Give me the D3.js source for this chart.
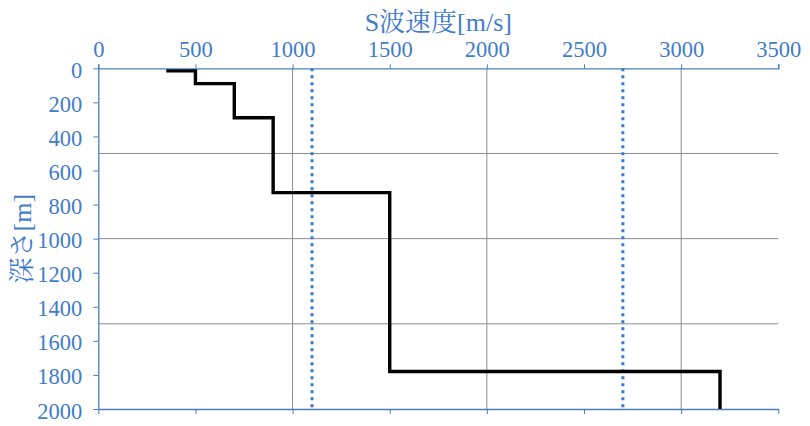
<!DOCTYPE html>
<html><head><meta charset="utf-8">
<script src="https://cdn.jsdelivr.net/npm/d3@7"></script>
<style>body{margin:0;background:#fff}</style>
</head><body>
<svg id="c" width="810" height="426"></svg>
<script>
const velocity = [350, 500, 500, 700, 700, 900, 900, 1500, 1500, 3200, 3200];
const depth    = [15, 15, 90, 90, 290, 290, 730, 730, 1780, 1780, 2000];
const refLines = [1100, 2700];
const xTicks = [0, 500, 1000, 1500, 2000, 2500, 3000, 3500];
const yTicks = [0, 200, 400, 600, 800, 1000, 1200, 1400, 1600, 1800, 2000];
const xGrid = [1000, 2000, 3000];
const yGrid = [500, 1000, 1500];

const blue = "#3f7ccc", axisBlue = "#4a7ebb", grid = "#8c8c8c";
const font = "'Liberation Serif','Noto Serif CJK JP','Noto Sans CJK JP',serif";
const svg = d3.select("#c");
const L = 98.3, R = 778.3, T = 68.3, B = 409;
const x = d3.scaleLinear().domain([0, 3500]).range([L, R]);
const y = d3.scaleLinear().domain([0, 2000]).range([T, B]);
const fmt = d3.format("d");

// grid
svg.append("g").selectAll("line").data(xGrid).join("line")
  .attr("x1", d => x(d)).attr("x2", d => x(d)).attr("y1", T).attr("y2", B)
  .attr("stroke", grid).attr("stroke-width", 1);
svg.append("g").selectAll("line").data(yGrid).join("line")
  .attr("y1", d => y(d)).attr("y2", d => y(d)).attr("x1", L).attr("x2", R)
  .attr("stroke", grid).attr("stroke-width", 1);

// axes
function styleAxis(g){
  g.select(".domain").attr("stroke", axisBlue).attr("stroke-width", 1.3);
  g.selectAll(".tick line").attr("stroke", axisBlue).attr("stroke-width", 1);
  g.selectAll(".tick text").attr("fill", blue).attr("font-family", font).attr("font-size", 22.5);
}
svg.append("g").attr("transform", `translate(0,${T})`)
  .call(d3.axisTop(x).tickValues(xTicks).tickFormat(fmt).tickSizeInner(4).tickSizeOuter(4).tickPadding(7))
  .call(styleAxis);
svg.append("g").attr("transform", `translate(0,${B})`)
  .call(d3.axisBottom(x).tickValues(xTicks).tickSizeInner(5).tickSizeOuter(0).tickFormat(""))
  .call(styleAxis);
svg.append("g").attr("transform", `translate(${L},0)`)
  .call(d3.axisLeft(y).tickValues(yTicks).tickFormat(fmt).tickSizeInner(5).tickSizeOuter(0).tickPadding(11))
  .call(styleAxis)
  .selectAll(".tick text").attr("dy", "0.4em");

// reference dotted lines
svg.append("g").selectAll("line").data(refLines).join("line")
  .attr("x1", d => x(d)).attr("x2", d => x(d)).attr("y1", T).attr("y2", B)
  .attr("stroke", "#3a78d0").attr("stroke-width", 3).attr("stroke-dasharray", "3,4");

// step line
const pts = velocity.map((v, i) => [v, depth[i]]);
svg.append("path").datum(pts)
  .attr("d", d3.line().x(d => x(d[0])).y(d => y(d[1])))
  .attr("fill", "none").attr("stroke", "#000").attr("stroke-width", 3.4)
  .attr("stroke-linejoin", "miter");

// titles
svg.append("text").attr("x", (L + R) / 2).attr("y", 31).attr("text-anchor", "middle")
  .attr("fill", blue).attr("font-family", font).attr("font-size", 26).text("S波速度[m/s]");
svg.append("text").attr("transform", `translate(31,${(T + B) / 2}) rotate(-90)`)
  .attr("text-anchor", "middle").attr("fill", blue).attr("font-family", font)
  .attr("font-size", 26).text("深さ[m]");
</script>
</body></html>
